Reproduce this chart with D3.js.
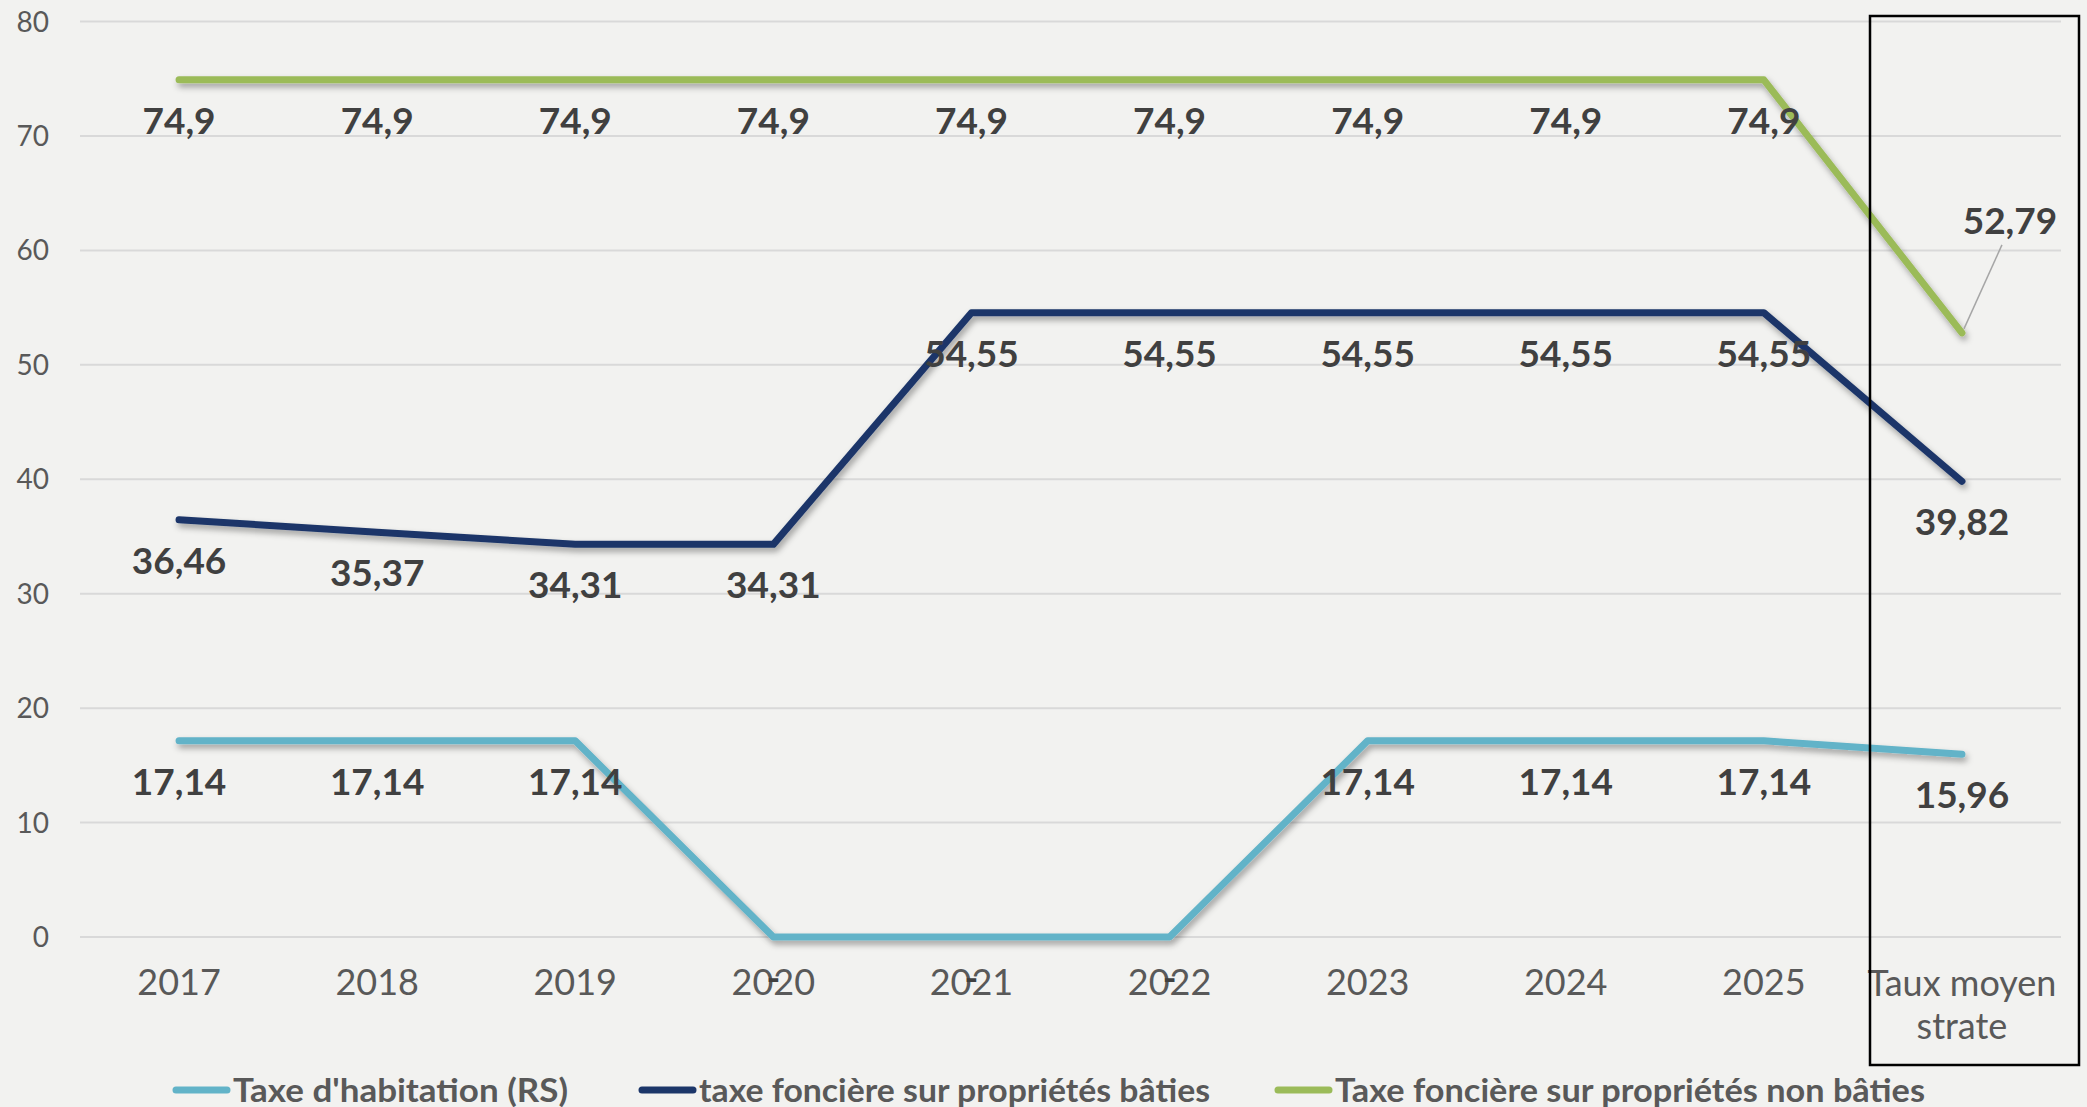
<!DOCTYPE html>
<html>
<head>
<meta charset="utf-8">
<script src="https://cdn.jsdelivr.net/npm/d3@7"></script>
<style>
  html, body { margin: 0; padding: 0; background: #f2f2f0; }
  svg { display: block; font-family: Lato, "Open Sans", sans-serif; }
</style>
</head>
<body>
<div id="chart"></div>
<script>
// categories on the x axis
var categories = ["2017", "2018", "2019", "2020", "2021", "2022", "2023", "2024", "2025", "Taux moyen strate"];

// series values
var habitation = [17.14, 17.14, 17.14, 0, 0, 0, 17.14, 17.14, 17.14, 15.96];
var fonciereBaties = [36.46, 35.37, 34.31, 34.31, 54.55, 54.55, 54.55, 54.55, 54.55, 39.82];
var fonciereNonBaties = [74.9, 74.9, 74.9, 74.9, 74.9, 74.9, 74.9, 74.9, 74.9, 52.79];

var seriesNames = ["Taxe d'habitation (RS)", "taxe foncière sur propriétés bâties", "Taxe foncière sur propriétés non bâties"];
var seriesColors = ["#62b3c8", "#1c3669", "#9bbb59"];

// y axis ticks
var yTicks = [0, 10, 20, 30, 40, 50, 60, 70, 80];

var width = 2087, height = 1107;

var svg = d3.select("#chart").append("svg")
    .attr("width", width)
    .attr("height", height);

svg.append("rect").attr("width", width).attr("height", height).attr("fill", "#f2f2f0");

var defs = svg.append("defs");
defs.append("filter")
    .attr("id", "shadow")
    .attr("x", "-10%").attr("y", "-10%").attr("width", "120%").attr("height", "130%")
  .append("feDropShadow")
    .attr("dx", 2).attr("dy", 4)
    .attr("stdDeviation", 3)
    .attr("flood-color", "#000")
    .attr("flood-opacity", 0.35);

var x = d3.scalePoint()
    .domain(categories)
    .range([80, 2061])
    .padding(0.5);

var y = d3.scaleLinear()
    .domain([0, 80])
    .range([937, 21.5]);

// gridlines
svg.append("g")
    .selectAll("line")
    .data(yTicks)
    .join("line")
        .attr("x1", 80)
        .attr("x2", 2061)
        .attr("y1", d => y(d))
        .attr("y2", d => y(d))
        .attr("stroke", "#d9d9d9")
        .attr("stroke-width", 2);

// y tick labels
svg.append("g")
    .attr("text-anchor", "end")
    .style("font-size", "28px")
    .style("fill", "#595959")
    .selectAll("text")
    .data(yTicks)
    .join("text")
        .attr("x", 49)
        .attr("y", d => y(d) + 10)
        .text(d => d);

// x tick labels
var xl = svg.append("g")
    .attr("text-anchor", "middle")
    .style("font-size", "36px")
    .style("fill", "#595959")
    .selectAll("text")
    .data(categories)
    .join("text")
        .attr("x", d => x(d))
        .attr("y", 995);

xl.each(function(d) {
    var t = d3.select(this);
    if (d === "Taux moyen strate") {
        t.append("tspan").attr("x", x(d)).attr("y", 996).text("Taux moyen");
        t.append("tspan").attr("x", x(d)).attr("y", 1039).text("strate");
    } else {
        t.text(d);
    }
});

// lines
var allSeries = [habitation, fonciereBaties, fonciereNonBaties];

var line = d3.line()
    .x((d, i) => x(categories[i]))
    .y(d => y(d));

svg.append("g")
    .attr("filter", "url(#shadow)")
    .selectAll("path")
    .data(allSeries)
    .join("path")
        .attr("d", line)
        .attr("fill", "none")
        .attr("stroke", (d, i) => seriesColors[i])
        .attr("stroke-width", 7)
        .attr("stroke-linejoin", "round")
        .attr("stroke-linecap", "round");

// data labels
var fmt = v => v === 0 ? "-" : String(v).replace(".", ",");

var labels = [];
allSeries.forEach(function(s, si) {
    s.forEach(function(v, i) {
        labels.push({ s: si, i: i, v: v });
    });
});

var lg = svg.append("g")
    .attr("text-anchor", "middle")
    .style("font-size", "37px")
    .style("font-weight", "bold")
    .style("fill", "#404040");

labels.forEach(function(d) {
    var px = x(categories[d.i]);
    var py = y(d.v);
    if (d.s === 2 && d.i === 9) {
        // label moved above-right with a leader line
        svg.append("line")
            .attr("x1", px + 2).attr("y1", py - 4)
            .attr("x2", px + 40).attr("y2", py - 88)
            .attr("stroke", "#a6a6a6")
            .attr("stroke-width", 1.5);
        lg.append("text")
            .attr("x", px + 48)
            .attr("y", py - 112 + 13)
            .text(fmt(d.v));
    } else {
        lg.append("text")
            .attr("x", px)
            .attr("y", py + 41 + 13)
            .text(fmt(d.v));
    }
});

// frame around the strata column
svg.append("rect")
    .attr("x", 1870)
    .attr("y", 16)
    .attr("width", 209)
    .attr("height", 1049)
    .attr("fill", "none")
    .attr("stroke", "#000")
    .attr("stroke-width", 2.5);

// legend
var legendX = [173, 639, 1275];
var legendW = [335, 511, 590];

var leg = svg.append("g")
    .selectAll("g")
    .data(seriesNames)
    .join("g")
        .attr("transform", (d, i) => `translate(${legendX[i]},1090)`);

leg.append("line")
    .attr("x1", 3).attr("x2", 54)
    .attr("stroke", (d, i) => seriesColors[i])
    .attr("stroke-width", 7)
    .attr("stroke-linecap", "round");

leg.append("text")
    .attr("x", 60)
    .attr("y", 12)
    .style("font-size", "33px")
    .style("font-weight", "bold")
    .style("fill", "#595959")
    .attr("textLength", (d, i) => legendW[i])
    .attr("lengthAdjust", "spacingAndGlyphs")
    .text(d => d);
</script>
</body>
</html>
